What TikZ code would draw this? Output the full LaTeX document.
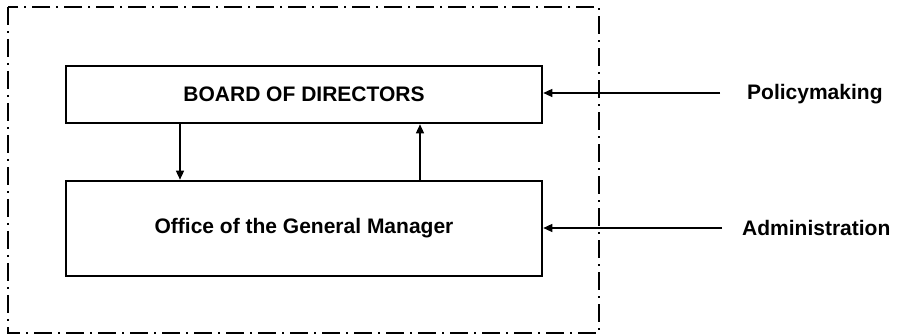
\documentclass[tikz,border=0pt]{standalone}
\usepackage{fontspec}
\setmainfont{Liberation Sans}
\usetikzlibrary{arrows.meta}
\tikzset{
  box/.style={draw=black, line width=2.6pt, minimum width=476pt, inner sep=0pt,
    font=\fontsize{21}{24}\selectfont\bfseries},
  lbl/.style={anchor=west, inner sep=0pt, font=\fontsize{21}{24}\selectfont\bfseries},
  arr/.style={line width=1.3pt, -{Triangle[length=9pt,width=8pt]}},
  frame/.style={line width=1.6pt, dash pattern=on 18pt off 6pt on 2pt off 6pt}
}
\begin{document}
\begin{tikzpicture}[x=1pt,y=-1pt]
\useasboundingbox (0,0) rectangle (900,336);
\draw[frame] (8,7) rectangle (599,333);
\node[box, minimum height=57pt] (board) at (304,94.5) {BOARD OF DIRECTORS};
\node[box, minimum height=95pt] (office) at (304,228.5) {Office of the General Manager};
\coordinate (dx) at (180,0);
\coordinate (ux) at (420,0);
\draw[arr] (board.south -| dx) -- (office.north -| dx);
\draw[arr] (office.north -| ux) -- (board.south -| ux);
\node[lbl] (pol) at (747,94) {Policymaking};
\node[lbl] (adm) at (742,228) {Administration};
\coordinate (pe) at (720,93);
\coordinate (ae) at (722,228);
\draw[arr] (pe) -- (board.east |- pe);
\draw[arr] (ae) -- (office.east |- ae);
\end{tikzpicture}
\end{document}
